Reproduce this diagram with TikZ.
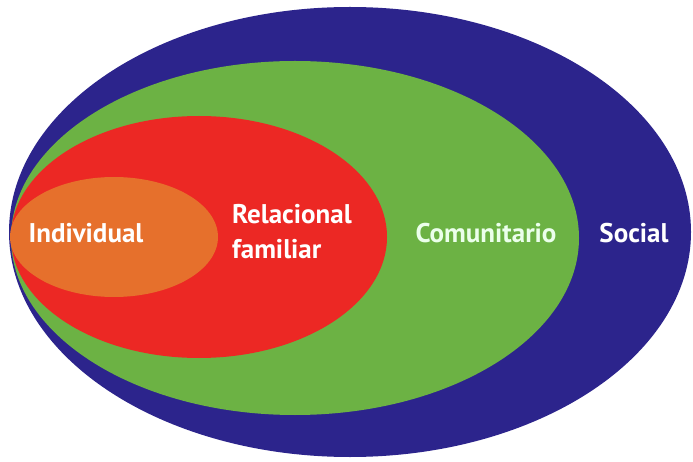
\documentclass[tikz,border=0pt]{standalone}
\usepackage{fontspec}
\setmainfont{PT Sans}
\usepackage{tikz}

\definecolor{socialblue}{RGB}{44,36,140}
\definecolor{comgreen}{RGB}{108,178,68}
\definecolor{relred}{RGB}{236,40,36}
\definecolor{indorange}{RGB}{230,112,44}

\begin{document}
\begin{tikzpicture}[x=1pt, y=-1pt,
    label/.style={text=white, font=\bfseries\fontsize{27}{35}\selectfont, inner sep=0pt}]
    \useasboundingbox (0,0) rectangle (693,462);
    \fill[white] (0,0) rectangle (693,462);

    \fill[socialblue] (350,232) ellipse [x radius=341, y radius=225];
    \fill[comgreen] (295,238) ellipse [x radius=284, y radius=177];
    \fill[relred] (199,237) ellipse [x radius=188, y radius=121];
    \fill[indorange] (114,237) ellipse [x radius=104, y radius=60];

    \node[label] (ind) at (86,233) {Individual};
    \node[label, align=left, anchor=west] (rel) at (232,232) {Relacional\\familiar};
    \node[label, text=green!8!white] (com) at (486,233) {Comunitario};
    \node[label] (soc) at (634,233) {Social};
\end{tikzpicture}
\end{document}
